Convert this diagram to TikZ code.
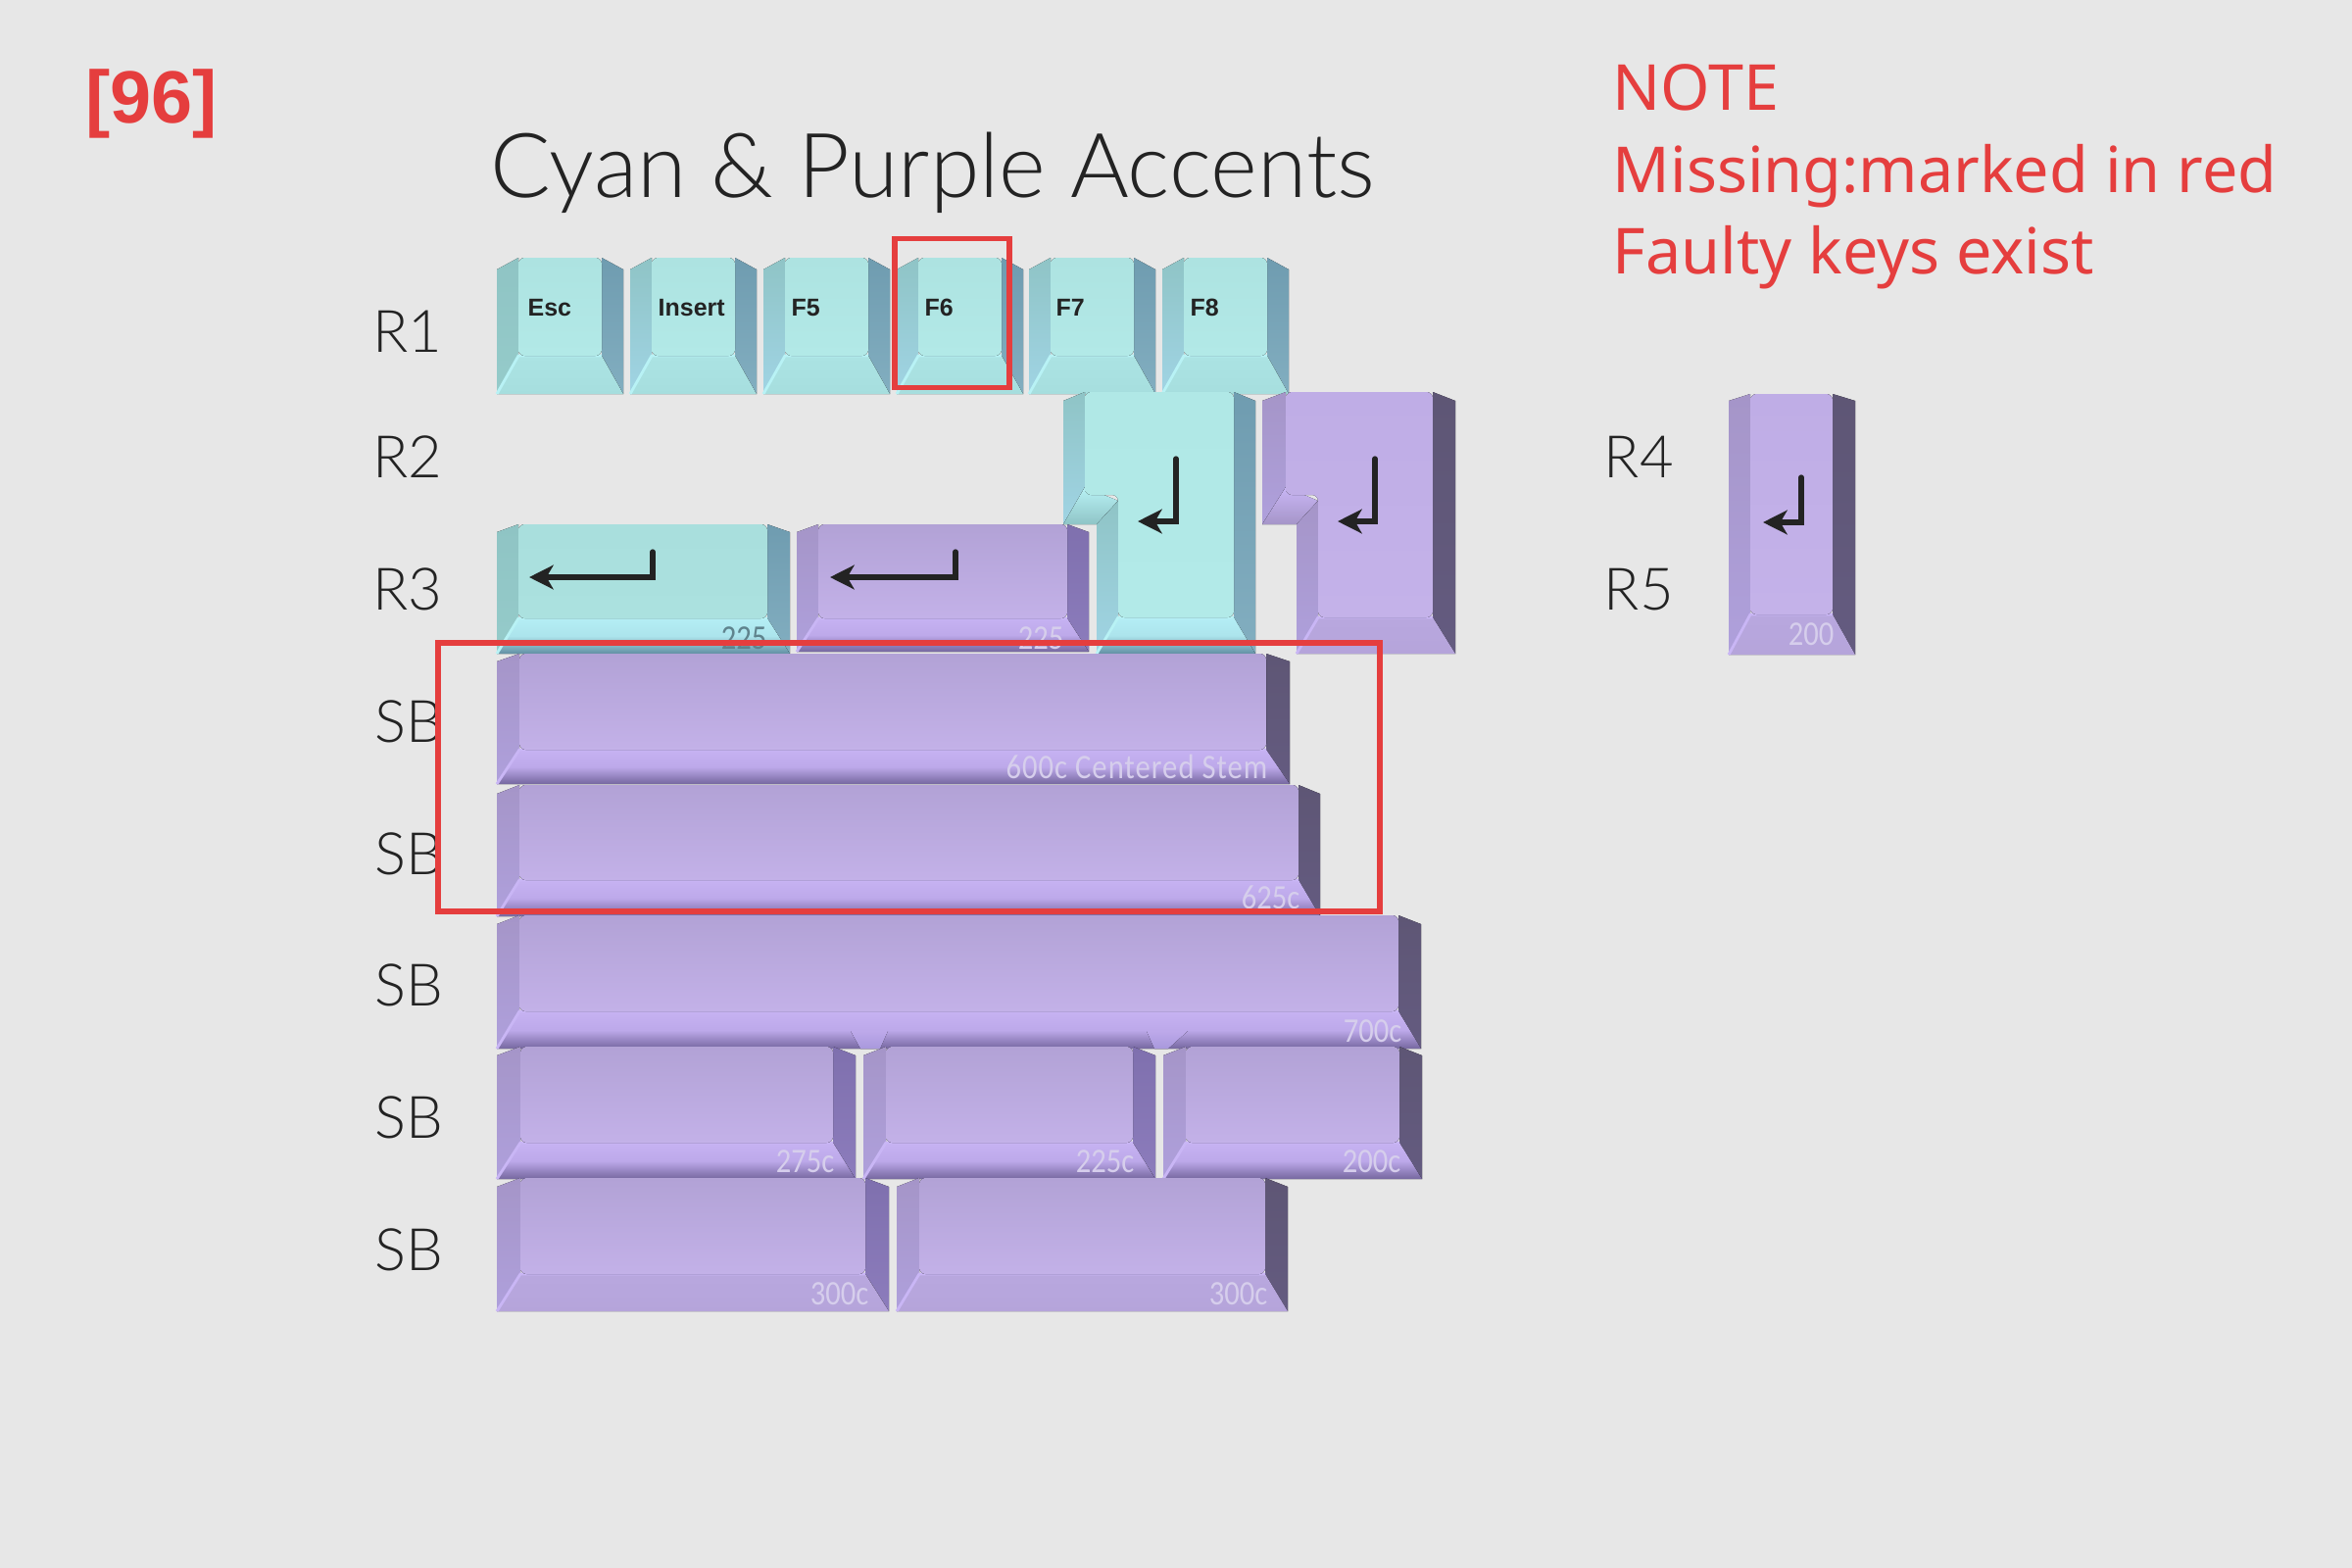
\documentclass[tikz,border=0pt]{standalone}
\usepackage{xcolor}
\usepackage{fontspec}
\usepackage{tikz}
\usetikzlibrary{arrows.meta, positioning, calc}

\newfontfamily\titlefont{Lato Light}
\newfontfamily\notefont{Noto Sans}
\newfontfamily\legendfont{Liberation Sans}
\newfontfamily\sizefont[FakeStretch=0.87]{Carlito}

\definecolor{sheet}{HTML}{E7E7E7}
\definecolor{ink}{HTML}{232323}
\definecolor{alert}{HTML}{E53E3E}
\definecolor{tagpale}{HTML}{D6CEEC}
\definecolor{tagdark}{HTML}{5F838D}

% one keycap: style(left,inner left,inner right,right)(top,shoulder,inner bottom,bottom)
\def\keycap#1(#2,#3,#4,#5)(#6,#7,#8,#9){
	\begin{scope}[#1]
		\fill[top color=keyleftA, bottom color=keyleftB] (#2,#7) -- (#3,#6) -- (#3,#8) -- (#2,#9) -- cycle;
		\fill[top color=keyrightA, bottom color=keyrightB] (#5,#7) -- (#4,#6) -- (#4,#8) -- (#5,#9) -- cycle;
		\fill[top color=keyfrontA, bottom color=keyfrontB, middle color=keyfrontM] (#2,#9) -- (#3,#8) -- (#4,#8) -- (#5,#9) -- cycle;
		\draw[keyglow, line width=.8pt] (#2,#9) -- (#3,#8) -- (#4,#8);
		\fill[top color=keytopA, bottom color=keytopB, rounded corners=1.8pt] (#3,#6) rectangle (#4,#8);
	\end{scope}
}
% enter key: style(left,inner left,inner right,right,lower left,lower inner left)
\def\enterkey#1(#2,#3,#4,#5,#6,#7){
	\begin{scope}[#1]
		\fill[top color=keyleftA, bottom color=keyleftB] (#2,409) -- (#3,400) -- (#3,497) -- (#2,535) -- cycle;
		\fill[top color=keyrightA, bottom color=keyrightB] (#5,409) -- (#4,400) -- (#4,630) -- (#5,667) -- cycle;
		\fill[top color=keyglow, bottom color=keyleftA] (#2,535) -- (#3,497) -- (#7,511) -- (#6,535) -- cycle;
		\fill[top color=keyleftA, bottom color=keyleftB] (#6,535) -- (#7,511) -- (#7,630) -- (#6,667) -- cycle;
		\fill[top color=keyfrontA, bottom color=keyfrontB, middle color=keyfrontM] (#6,667) -- (#7,630) -- (#4,630) -- (#5,667) -- cycle;
		\draw[keyglow, line width=.8pt] (#6,667) -- (#7,630) -- (#4,630);
		\fill[top color=keytopA, bottom color=keytopB, rounded corners=1.8pt] (#3,400) -- (#4,400) -- (#4,630) -- (#7,630) -- (#7,505) -- (#3,505) -- cycle;
	\end{scope}
}

\tikzset{
	cyankey/.code={
		\definecolor{keytopA}{HTML}{ADE3E1}\definecolor{keytopB}{HTML}{B2E9E7}
		\definecolor{keyleftA}{HTML}{8FC4C6}\definecolor{keyleftB}{HTML}{A0D4E4}
		\definecolor{keyrightA}{HTML}{6F9CB0}\definecolor{keyrightB}{HTML}{82AEC0}
		\definecolor{keyfrontA}{HTML}{ABE3E3}\definecolor{keyfrontM}{HTML}{A9E1E1}\definecolor{keyfrontB}{HTML}{A6DEDE}
		\definecolor{keyglow}{HTML}{B8F2F5}},
	purplekey/.code={
		\definecolor{keytopA}{HTML}{B2A2D6}\definecolor{keytopB}{HTML}{C3B1E8}
		\definecolor{keyleftA}{HTML}{A595C8}\definecolor{keyleftB}{HTML}{AFA0DC}
		\definecolor{keyrightA}{HTML}{7F70AE}\definecolor{keyrightB}{HTML}{8C7CBC}
		\definecolor{keyfrontA}{HTML}{B8A7DE}\definecolor{keyfrontM}{HTML}{B7A6DD}\definecolor{keyfrontB}{HTML}{B5A4DA}
		\definecolor{keyglow}{HTML}{C9B6F5}},
	darkside/.code={\definecolor{keyrightA}{HTML}{5E5675}\definecolor{keyrightB}{HTML}{645B80}},
	greenleft/.code={\definecolor{keyleftA}{HTML}{8FC4C4}\definecolor{keyleftB}{HTML}{95CBCA}},
	flatcyan/.code={\definecolor{keytopA}{HTML}{A9DFDD}\definecolor{keytopB}{HTML}{ABE1DF}},
	palecyan/.code={\definecolor{keytopA}{HTML}{B0E8E6}\definecolor{keytopB}{HTML}{B2EAE8}},
	palepurple/.code={\definecolor{keytopA}{HTML}{BFADE6}\definecolor{keytopB}{HTML}{C4B2E9}},
	cyanshade/.code={\definecolor{keyfrontA}{HTML}{B4EEF5}\definecolor{keyfrontM}{HTML}{ACE4EC}\definecolor{keyfrontB}{HTML}{628FA3}},
	purpleshade/.code={\definecolor{keyfrontA}{HTML}{C6B2F2}\definecolor{keyfrontM}{HTML}{BDA9EA}\definecolor{keyfrontB}{HTML}{75679F}},
	legend/.style={anchor=base west, inner sep=0pt, text=ink, font=\legendfont\bfseries\fontsize{7.1}{8}\selectfont},
	rowlabel/.style={anchor=base west, inner sep=0pt, text=ink, font=\titlefont\fontsize{17}{20}\selectfont},
	notetext/.style={anchor=base west, inner sep=0pt, text=alert, font=\notefont\fontsize{18.4}{22}\selectfont},
	sizetag/.style={anchor=base east, inner sep=0pt, text=#1, font=\sizefont\fontsize{10}{12}\selectfont},
	sizetag/.default=tagpale,
	enterglyph/.style={-{Stealth[length=7pt, width=7pt, inset=2pt]}, line width=1.5pt, draw=ink, line cap=round},
	missing/.style={draw=alert, line width=1.5pt},
	gapglow/.style={top color=keygapA, bottom color=keygapB}
}
\definecolor{keygapA}{HTML}{BDA9EA}
\definecolor{keygapB}{HTML}{A898DC}

\begin{document}
\begin{tikzpicture}[x=.01cm, y=-.01cm]
	\useasboundingbox (0,0) rectangle (2400,1600);
	\fill[sheet] (0,0) rectangle (2400,1600);
	
	% headings
	\node[anchor=base west, inner sep=0pt, text=alert, font=\legendfont\bfseries\fontsize{21.5}{26}\selectfont] (tag) at (87,126) {[96]};
	\node[anchor=base west, inner sep=0pt, text=ink, font=\titlefont\fontsize{26}{30}\selectfont] (title) at (500,202) {Cyan \& Purple Accents};
	\node[notetext] (note1) at (1645,113) {NOTE};
	\node[notetext] (note2) at (1645,196) {Missing:marked in red};
	\node[notetext] (note3) at (1645,279) {Faulty keys exist};
	
	% row names
	\foreach \name/\txt/\x/\y in {r1/R1/380/359, r2/R2/380/487, r3/R3/380/622, r4/R4/1636/487, r5/R5/1636/622, sba/SB/382/757, sbb/SB/382/892, sbc/SB/382/1026, sbd/SB/382/1161, sbe/SB/382/1296}
		\node[rowlabel] (\name) at (\x,\y) {\txt};
	
	% first row
	\keycap{cyankey,greenleft}(507,529,614,636)(263,275,363,402)
	\node[legend] (keyEsc) at (538,322) {Esc};
	\foreach \x/\txt/\off in {643/Insert/28, 779/F5/28, 915/F6/28, 1050/F7/27, 1186/F8/28}{
		\keycap{cyankey}(\x,\x+22,\x+107,\x+129)(263,275,363,402)
		\node[legend] (key\txt) at (\x+\off,322) {\txt};
	}
	
	% enter keys
	\keycap{cyankey,greenleft,flatcyan,cyanshade}(507,529,783,806)(535,543,631,667)
	\keycap{purplekey,purpleshade}(813,835,1089,1111)(535,543,631,665)
	\enterkey{cyankey,palecyan,cyanshade}(1085,1107,1259,1281,1119,1141)
	\enterkey{purplekey,palepurple,darkside}(1288,1312,1462,1485,1323,1345)
	\keycap{purplekey,palepurple,darkside}(1764,1786,1870,1893)(402,409,627,668)
	\draw[enterglyph] (666,563) |- (540,589);
	\draw[enterglyph] (975,563) |- (847,589);
	\draw[enterglyph] (1200,468) |- (1161,532);
	\draw[enterglyph] (1403,468) |- (1365,532);
	\draw[enterglyph] (1838,487) |- (1799,533);
	\node[sizetag=tagdark] (s225a) at (783,662) {225};
	\node[sizetag] (s225b) at (1086,662) {225};
	\node[sizetag] (s200a) at (1872,658) {200};
	
	% spacebars
	\keycap{purplekey,purpleshade,darkside}(507,530,1292,1316)(667,675,765,800)
	\keycap{purplekey,purpleshade,darkside}(507,530,1325,1347)(801,810,898,935)
	\keycap{purplekey,purpleshade,darkside}(507,530,1427,1450)(934,943,1032,1070)
	\fill[gapglow] (868,1052) -- (906,1052) -- (898,1070) -- (878,1070) -- cycle;
	\fill[gapglow] (1170,1052) -- (1212,1052) -- (1192,1070) -- (1178,1070) -- cycle;
	\keycap{purplekey,purpleshade}(507,531,850,873)(1068,1077,1166,1203)
	\keycap{purplekey,purpleshade}(881,904,1156,1179)(1068,1077,1166,1203)
	\keycap{purplekey,purpleshade,darkside}(1187,1210,1428,1451)(1068,1077,1166,1203)
	\keycap{purplekey}(507,531,883,907)(1202,1211,1300,1338)
	\keycap{purplekey,darkside}(915,938,1291,1314)(1202,1211,1300,1338)
	\node[sizetag] (s600) at (1294,794) {\addfontfeature{LetterSpace=3}600c Centered Stem};
	\node[sizetag] (s625) at (1327,927) {625c};
	\node[sizetag] (s700) at (1431,1063) {700c};
	\node[sizetag] (s275) at (852,1196) {275c};
	\node[sizetag] (s225c) at (1158,1196) {225c};
	\node[sizetag] (s200b) at (1430,1196) {200c};
	\node[sizetag] (s300a) at (887,1331) {300c};
	\node[sizetag] (s300b) at (1294,1331) {300c};
	
	% marks for missing keys
	\draw[missing] (913,243.5) rectangle (1030,395.5);
	\draw[missing] (447,656) rectangle (1408,930);
	
\end{tikzpicture}
\end{document}
